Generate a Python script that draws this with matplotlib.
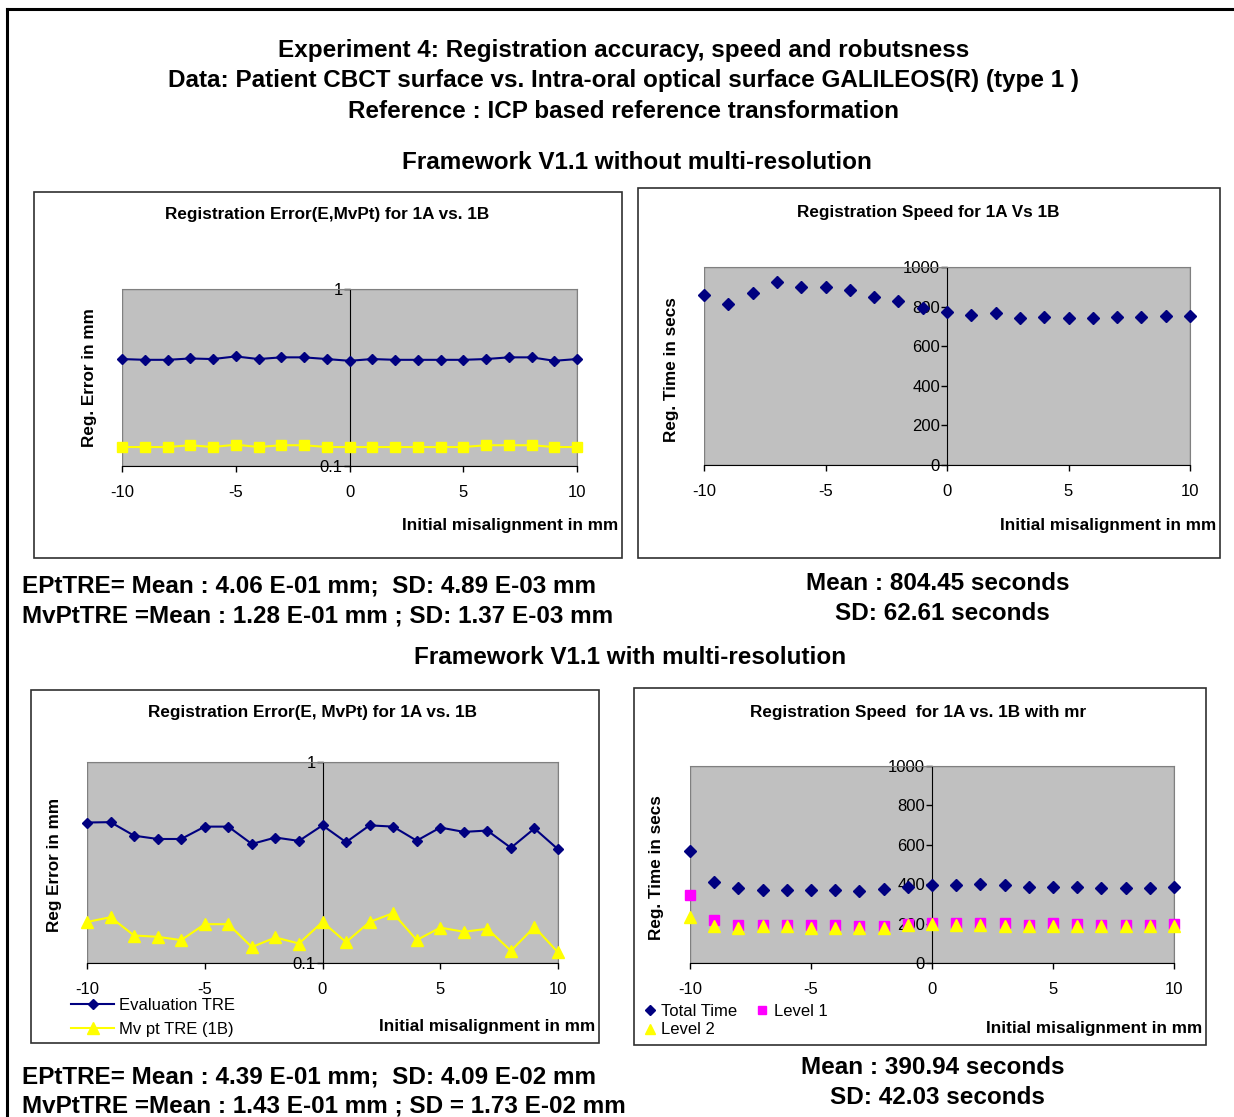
import numpy as np
import matplotlib
matplotlib.use("Agg")
import matplotlib.pyplot as plt
from matplotlib.patches import Rectangle
from matplotlib.lines import Line2D

plt.rcParams['font.family'] = ['Liberation Sans', 'DejaVu Sans']

# initial misalignment in mm (x for all four charts)
misalign = [-10, -9, -8, -7, -6, -5, -4, -3, -2, -1, 0, 1, 2, 3, 4, 5, 6, 7, 8, 9, 10]

# Framework without multi-resolution
err_eval = [0.402, 0.398, 0.398, 0.405, 0.402, 0.416, 0.402, 0.411, 0.411, 0.402, 0.393,
            0.402, 0.398, 0.398, 0.398, 0.398, 0.402, 0.411, 0.411, 0.393, 0.402]
err_mvpt = [0.128, 0.128, 0.128, 0.131, 0.128, 0.132, 0.128, 0.131, 0.131, 0.128, 0.128,
            0.128, 0.128, 0.128, 0.128, 0.128, 0.131, 0.131, 0.131, 0.128, 0.128]
speed_time = [860, 813, 869, 923, 901, 901, 882, 849, 827, 793, 773,
              756, 766, 741, 750, 741, 741, 750, 746, 755, 755]

# Framework with multi-resolution
mr_eval = [0.500, 0.502, 0.430, 0.414, 0.414, 0.477, 0.477, 0.391, 0.421, 0.405, 0.484,
           0.399, 0.484, 0.477, 0.406, 0.472, 0.449, 0.456, 0.374, 0.467, 0.368]
mr_mvpt = [0.160, 0.169, 0.137, 0.135, 0.130, 0.156, 0.156, 0.120, 0.134, 0.125, 0.160,
           0.127, 0.160, 0.177, 0.130, 0.150, 0.143, 0.148, 0.115, 0.151, 0.113]
mr_total = [571, 412, 380, 371, 371, 371, 371, 366, 375, 386, 397,
            395, 403, 395, 386, 386, 386, 380, 380, 380, 386]
mr_level1 = [344, 219, 193, 193, 193, 193, 193, 186, 186, 197, 203,
             203, 203, 203, 193, 203, 197, 193, 193, 193, 197]
mr_level2 = [231, 186, 180, 186, 186, 180, 180, 176, 180, 193, 197,
             193, 193, 186, 186, 186, 186, 186, 186, 186, 186]

x_ticks = [-10, -5, 0, 5, 10]
time_ticks = [0, 200, 400, 600, 800, 1000]

W, H = 1234, 1117
NAVY = '#000080'
YELLOW = '#ffff00'
MAGENTA = '#ff00ff'
BIG = 17.5      # page headings and statistics
SMALL = 12.3    # chart titles / axis labels
TICK = 12


def fbox(x0, y0, x1, y1):
    return [x0 / W, 1 - y1 / H, (x1 - x0) / W, (y1 - y0) / H]


def ftext(x, y, s, **kw):
    fig.text(x / W, 1 - y / H, s, **kw)


def frame(x0, y0, x1, y1, **kw):
    fig.patches.append(Rectangle((x0 / W, 1 - y1 / H), (x1 - x0) / W, (y1 - y0) / H,
                                 transform=fig.transFigure, fill=False, **kw))


def style_axes(ax, log=False):
    ax.set_facecolor('#c0c0c0')
    ax.set_xlim(-10, 10)
    if log:
        ax.set_yscale('log')
        ax.set_ylim(0.1, 1)
        ax.set_yticks([0.1, 1])
        ax.set_yticklabels(['0.1', '1'])
        ax.yaxis.set_minor_locator(matplotlib.ticker.NullLocator())
    else:
        ax.set_ylim(0, 1000)
        ax.set_yticks(time_ticks)
        ax.set_yticklabels([str(t) for t in time_ticks])
    ax.set_xticks(x_ticks)
    ax.set_xticklabels([str(t) for t in x_ticks])
    ax.spines['left'].set_position(('data', 0))
    ax.spines['left'].set_color('black')
    ax.spines['bottom'].set_color('black')
    for s in ['top', 'right']:
        ax.spines[s].set_color('#808080')
    ax.add_patch(Rectangle((0, 0), 1, 1, transform=ax.transAxes, fill=False,
                           edgecolor='#808080', lw=1, zorder=0.5))
    ax.tick_params(direction='out', length=4, width=1, labelsize=TICK)
    ax.tick_params(axis='x', pad=10)
    ax.tick_params(axis='y', pad=1)


fig = plt.figure(figsize=(W / 100, H / 100), dpi=100)

# outer frame (right and bottom edges are cut off in the original)
fig.add_artist(Line2D([7 / W, 1], [1 - 9 / H, 1 - 9 / H], color='black', lw=2.2))
fig.add_artist(Line2D([7 / W, 7 / W], [1 - 9 / H, 0], color='black', lw=2.2))

ftext(624, 51, 'Experiment 4: Registration accuracy, speed and robutsness',
      ha='center', va='center', fontsize=BIG, fontweight='bold')
ftext(624, 81, 'Data: Patient CBCT surface vs. Intra-oral optical surface GALILEOS(R) (type 1 )',
      ha='center', va='center', fontsize=BIG, fontweight='bold')
ftext(624, 111, 'Reference : ICP based reference transformation',
      ha='center', va='center', fontsize=BIG, fontweight='bold')
ftext(637, 163, 'Framework V1.1 without multi-resolution',
      ha='center', va='center', fontsize=BIG, fontweight='bold')
ftext(630, 658, 'Framework V1.1 with multi-resolution',
      ha='center', va='center', fontsize=BIG, fontweight='bold')

# chart boxes
frame(34, 192, 622, 558, edgecolor='#303030', lw=1.2)
frame(638, 188, 1220, 558, edgecolor='#303030', lw=1.2)
frame(31, 690, 599, 1043, edgecolor='#303030', lw=1.2)
frame(634, 688, 1206, 1045, edgecolor='#303030', lw=1.2)

# ---- chart 1: error without mr
ax1 = fig.add_axes(fbox(122, 289, 577, 466))
style_axes(ax1, log=True)
ax1.plot(misalign, err_eval, color=NAVY, marker='D', ms=5.5, lw=1.5, clip_on=False, zorder=3)
ax1.plot(misalign, err_mvpt, color=YELLOW, marker='s', ms=7, lw=1.5, clip_on=False, zorder=3)
ftext(327, 215, 'Registration Error(E,MvPt) for 1A vs. 1B', ha='center', va='center',
      fontsize=SMALL, fontweight='bold')
ftext(90, 378, 'Reg. Error in mm', ha='center', va='center', rotation=90,
      fontsize=SMALL, fontweight='bold')
ftext(618, 525, 'Initial misalignment in mm', ha='right', va='center',
      fontsize=SMALL, fontweight='bold')

# ---- chart 2: speed without mr
ax2 = fig.add_axes(fbox(704, 267, 1190, 465))
style_axes(ax2)
ax2.plot(misalign, speed_time, ls='none', color=NAVY, marker='D', ms=6, clip_on=False, zorder=3)
ftext(928, 212, 'Registration Speed for 1A Vs 1B', ha='center', va='center',
      fontsize=SMALL, fontweight='bold')
ftext(672, 370, 'Reg. Time in secs', ha='center', va='center', rotation=90,
      fontsize=SMALL, fontweight='bold')
ftext(1216, 525, 'Initial misalignment in mm', ha='right', va='center',
      fontsize=SMALL, fontweight='bold')

ftext(22, 586, 'EPtTRE= Mean : 4.06 E-01 mm;  SD: 4.89 E-03 mm', ha='left', va='center',
      fontsize=BIG, fontweight='bold')
ftext(22, 616, 'MvPtTRE =Mean : 1.28 E-01 mm ; SD: 1.37 E-03 mm', ha='left', va='center',
      fontsize=BIG, fontweight='bold')
ftext(938, 584, 'Mean : 804.45 seconds', ha='center', va='center', fontsize=BIG, fontweight='bold')
ftext(942, 614, 'SD: 62.61 seconds', ha='center', va='center', fontsize=BIG, fontweight='bold')

# ---- chart 3: error with mr
ax3 = fig.add_axes(fbox(87, 762, 558, 963))
style_axes(ax3, log=True)
h1, = ax3.plot(misalign, mr_eval, color=NAVY, marker='D', ms=5.5, lw=1.5, clip_on=False, zorder=3,
               label='Evaluation TRE')
h2, = ax3.plot(misalign, mr_mvpt, color=YELLOW, marker='^', ms=8, lw=1.5, clip_on=False, zorder=3,
               label='Mv pt TRE (1B)')
ax3.legend(handles=[h1, h2], loc='upper left', bbox_to_anchor=(71 / W, 1 - 998 / H),
           bbox_transform=fig.transFigure, frameon=False, fontsize=TICK, handlelength=2.6,
           handletextpad=0.3, labelspacing=0.55, borderpad=0, borderaxespad=0)
ftext(313, 713, 'Registration Error(E, MvPt) for 1A vs. 1B', ha='center', va='center',
      fontsize=SMALL, fontweight='bold')
ftext(54, 865, 'Reg Error in mm', ha='center', va='center', rotation=90,
      fontsize=SMALL, fontweight='bold')
ftext(595, 1026, 'Initial misalignment in mm', ha='right', va='center',
      fontsize=SMALL, fontweight='bold')

# ---- chart 4: speed with mr
ax4 = fig.add_axes(fbox(690, 766, 1174, 963))
style_axes(ax4)
g1, = ax4.plot(misalign, mr_total, ls='none', color=NAVY, marker='D', ms=6, clip_on=False,
               zorder=3, label='Total Time')
g2, = ax4.plot(misalign, mr_level1, ls='none', color=MAGENTA, marker='s', ms=7, clip_on=False,
               zorder=3, label='Level 1')
g3, = ax4.plot(misalign, mr_level2, ls='none', color=YELLOW, marker='^', ms=8, clip_on=False,
               zorder=3, label='Level 2')
ax4.legend(handles=[g1, g3, g2], ncol=2, loc='upper left', bbox_to_anchor=(643 / W, 1 - 1004 / H),
           bbox_transform=fig.transFigure, frameon=False, fontsize=TICK, handlelength=0.8,
           handletextpad=0.3, labelspacing=0.2, columnspacing=1.1, borderpad=0,
           borderaxespad=0, markerscale=0.9)
ftext(918, 712, 'Registration Speed  for 1A vs. 1B with mr', ha='center', va='center',
      fontsize=SMALL, fontweight='bold')
ftext(657, 868, 'Reg. Time in secs', ha='center', va='center', rotation=90,
      fontsize=SMALL, fontweight='bold')
ftext(1202, 1028, 'Initial misalignment in mm', ha='right', va='center',
      fontsize=SMALL, fontweight='bold')

ftext(22, 1077, 'EPtTRE= Mean : 4.39 E-01 mm;  SD: 4.09 E-02 mm', ha='left', va='center',
      fontsize=BIG, fontweight='bold')
ftext(22, 1106, 'MvPtTRE =Mean : 1.43 E-01 mm ; SD = 1.73 E-02 mm', ha='left', va='center',
      fontsize=BIG, fontweight='bold')
ftext(933, 1068, 'Mean : 390.94 seconds', ha='center', va='center', fontsize=BIG, fontweight='bold')
ftext(937, 1098, 'SD: 42.03 seconds', ha='center', va='center', fontsize=BIG, fontweight='bold')

fig.savefig('out.png', dpi=100)
